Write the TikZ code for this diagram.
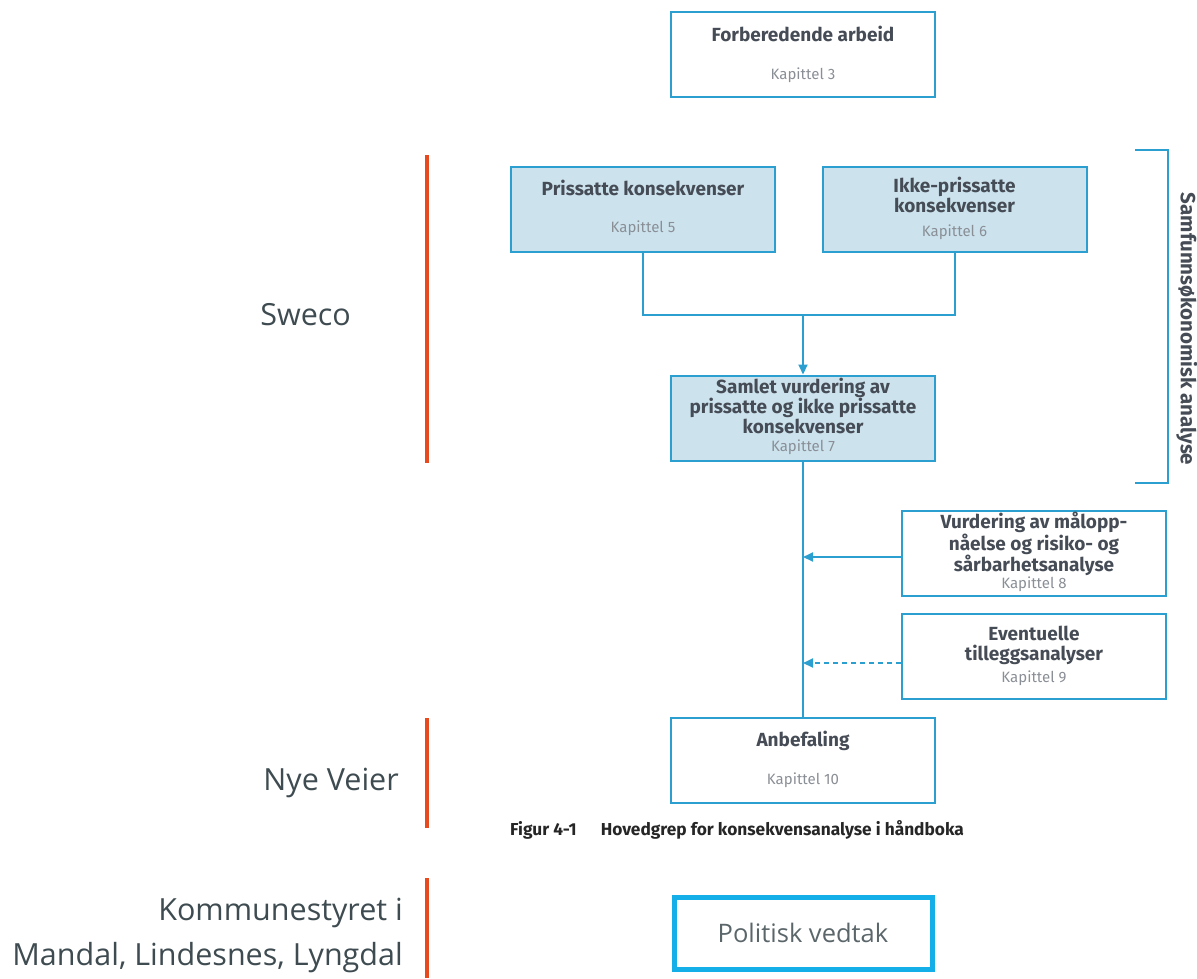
\documentclass[tikz,border=0pt]{standalone}
\usepackage{fontspec}
\setmainfont{Fira Sans}
\newfontfamily\sidefont{Open Sans}
\usetikzlibrary{arrows.meta}
\definecolor{bdr}{HTML}{2A9FD0}
\definecolor{fillb}{HTML}{CCE3EE}
\definecolor{txt}{HTML}{464C55}
\definecolor{kap}{HTML}{8A8F96}
\definecolor{redbar}{HTML}{E84A1F}
\definecolor{side}{HTML}{3E4B50}
\definecolor{cyanb}{HTML}{14AEE8}
\tikzset{
  box/.style={draw=bdr, line width=2pt, minimum width=264pt, minimum height=85pt, inner sep=0pt},
  bluebox/.style={box, fill=fillb},
  ttl/.style={font=\fontsize{19}{20}\selectfont\bfseries, text=txt, align=center, inner sep=0pt},
  kp/.style={font=\fontsize{15}{16}\selectfont, text=kap, inner sep=0pt},
  conn/.style={draw=bdr, line width=2pt},
  arr/.style={conn, -{Triangle[length=10pt,width=9pt]}},
  bar/.style={draw=redbar, line width=4pt},
  sidetxt/.style={font=\sidefont\fontsize{30.5}{45}\selectfont, text=side, align=right, inner sep=0pt, anchor=east}
}
\begin{document}
\begin{tikzpicture}[x=1pt,y=-1pt]
\useasboundingbox (0,0) rectangle (1197,978);
% boxes
\node[box] (forb) at (803,54.5) {};
\node[ttl] (forbT) at (803,34) {Forberedende arbeid};
\node[kp] (forbK) at (803,75) {Kapittel 3};

\node[bluebox] (pris) at (643,209.5) {};
\node[ttl] (prisT) at (643,188) {Prissatte konsekvenser};
\node[kp] (prisK) at (643,228) {Kapittel 5};

\node[bluebox] (ikke) at (954.5,209.5) {};
\node[ttl] (ikkeT) at (954.5,195) {Ikke-prissatte\\konsekvenser};
\node[kp] (ikkeK) at (954.5,232) {Kapittel 6};

\node[bluebox] (saml) at (803,418) {};
\node[ttl] (samlT) at (803,406) {Samlet vurdering av\\prissatte og ikke prissatte\\konsekvenser};
\node[kp] (samlK) at (803,447) {Kapittel 7};

\node[box] (vurd) at (1034,553) {};
\node[ttl] (vurdT) at (1034,544) {Vurdering av målopp-\\nåelse og risiko- og\\sårbarhetsanalyse};
\node[kp] (vurdK) at (1034,584.5) {Kapittel 8};

\node[box] (even) at (1034,656.5) {};
\node[ttl] (evenT) at (1034,645) {Eventuelle\\tilleggsanalyser};
\node[kp] (evenK) at (1034,678) {Kapittel 9};

\node[box] (anb) at (803,760.5) {};
\node[ttl] (anbT) at (803,741) {Anbefaling};
\node[kp] (anbK) at (803,780) {Kapittel 10};

% connectors
\coordinate (join) at (803,315);
\draw[conn] (pris.south) |- (join) -| (ikke.south);
\draw[arr] (join) -- (saml.north);
\draw[conn] (saml.south) -- (anb.north);
\draw[arr] (vurd.west |- 0,557) -- (803,557);
\draw[arr, dash pattern=on 5pt off 4pt] (even.west |- 0,663) -- (803,663);

% caption
\node[font=\fontsize{17.3}{19}\selectfont\bfseries, text=black!85, anchor=west, inner sep=0pt] (cap) at (510,830) {Figur 4-1\hspace{24pt}Hovedgrep for konsekvensanalyse i håndboka};

% bracket
\coordinate (br1) at (1135,150);
\coordinate (br2) at (1168,150);
\coordinate (br3) at (1168,483);
\coordinate (br4) at (1135,483);
\draw[conn] (br1) -- (br2) -- (br3) -- (br4);
\node[font=\fontsize{20.5}{22}\selectfont\bfseries, text=txt, rotate=-90, inner sep=0pt] (samf) at (1187,329) {Samfunnsøkonomisk analyse};

% red bars
\coordinate (r1a) at (427,155); \coordinate (r1b) at (427,463);
\coordinate (r2a) at (427,718); \coordinate (r2b) at (427,828);
\coordinate (r3a) at (427,878); \coordinate (r3b) at (427,978);
\draw[bar] (r1a) -- (r1b);
\draw[bar] (r2a) -- (r2b);
\draw[bar] (r3a) -- (r3b);

% side labels
\node[sidetxt] (sweco) at (351,315) {Sweco};
\node[sidetxt] (nye) at (399,783) {Nye Veier};
\node[sidetxt] (komm) at (403,935) {Kommunestyret i\\Mandal, Lindesnes, Lyngdal};

% politisk vedtak
\node[draw=cyanb, line width=5pt, minimum width=258pt, minimum height=72pt, inner sep=0pt, font=\sidefont\fontsize{25.5}{28}\selectfont, text=side!85] (pol) at (803,933) {Politisk vedtak};
\end{tikzpicture}
\end{document}
